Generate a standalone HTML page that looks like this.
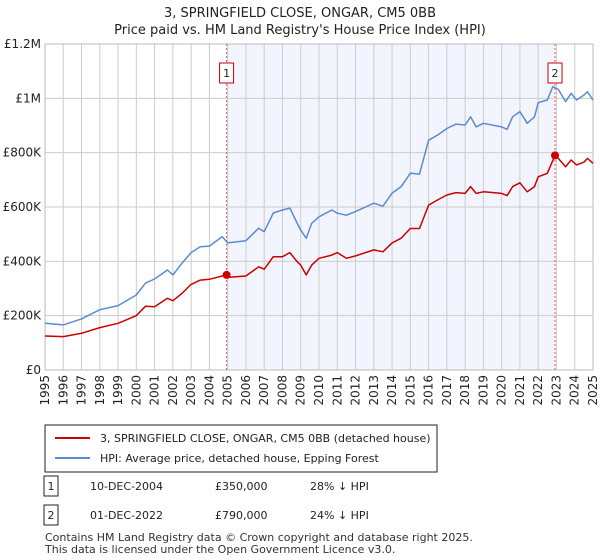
<!DOCTYPE html>
<html><head><meta charset="utf-8"><style>
body{margin:0;background:#fff;font-family:"Liberation Sans","DejaVu Sans",sans-serif;}
#wrap{position:relative;width:600px;height:560px;overflow:hidden;}
svg text{font-family:"DejaVu Sans","Liberation Sans",sans-serif;}
</style></head><body><div id="wrap">
<svg id="c" width="600" height="560"></svg>
</div>
<script>
const hpiYears=[1995,1996,1997,1998,1999,2000,2000.5,2001,2001.7,2002,2002.5,2003,2003.5,2004,2004.7,2005,2006,2006.7,2007,2007.5,2008,2008.4,2008.8,2009,2009.3,2009.6,2010,2010.7,2011,2011.5,2012,2013,2013.5,2014,2014.5,2015,2015.5,2016,2016.5,2017,2017.5,2018,2018.3,2018.6,2019,2020,2020.3,2020.6,2021,2021.4,2021.8,2022,2022.5,2022.8,2023.1,2023.5,2023.8,2024.1,2024.5,2024.7,2025];
const hpiValues=[172,166,188,222,237,276,320,335,368,350,393,432,454,456,491,468,476,522,509,578,589,596,541,515,485,540,564,589,577,570,583,614,603,651,675,724,721,846,865,889,905,902,932,895,908,895,886,932,951,908,932,984,994,1043,1033,988,1018,994,1012,1024,994];
const redYears=[1995,1996,1997,1998,1999,2000,2000.5,2001,2001.7,2002,2002.5,2003,2003.5,2004,2004.94,2005,2006,2006.7,2007,2007.5,2008,2008.4,2008.8,2009,2009.3,2009.6,2010,2010.7,2011,2011.5,2012,2013,2013.5,2014,2014.5,2015,2015.5,2016,2016.5,2017,2017.5,2018,2018.3,2018.6,2019,2020,2020.3,2020.6,2021,2021.4,2021.8,2022,2022.5,2022.92,2023.1,2023.5,2023.8,2024.1,2024.5,2024.7,2025];
const redValues=[125,123,135,156,172,200,235,233,264,255,282,315,331,334,350,341,346,380,371,417,417,432,399,386,350,386,411,423,432,411,420,442,435,468,485,521,521,607,626,644,653,650,675,650,656,650,642,675,689,656,675,711,724,790,779,748,773,755,765,779,761];
const saleYears=[2004.94,2022.92];
const saleValues=[350,790];
const saleLabels=["1","2"];
const yTicks=[0,200,400,600,800,1000,1200];
const yTickLabels=["£0","£200K","£400K","£600K","£800K","£1M","£1.2M"];
const xTicks=[1995,1996,1997,1998,1999,2000,2001,2002,2003,2004,2005,2006,2007,2008,2009,2010,2011,2012,2013,2014,2015,2016,2017,2018,2019,2020,2021,2022,2023,2024,2025];

const NS="http://www.w3.org/2000/svg";
const svg=document.getElementById('c');
const L=45,R=593,T=44,B=370;
const X=y=>L+(y-1995)*(R-L)/30;
const Y=v=>B-v*(B-T)/1200;
function mk(tag,at,parent){const e=document.createElementNS(NS,tag);for(const k in at)e.setAttribute(k,at[k]);(parent||svg).appendChild(e);return e;}
function txt(s,at){const e=mk('text',at);e.textContent=s;return e;}

let t=txt("3, SPRINGFIELD CLOSE, ONGAR, CM5 0BB",{x:300,y:17,'text-anchor':'middle','font-size':13,fill:'#222'});


t=txt("Price paid vs. HM Land Registry's House Price Index (HPI)",{x:300,y:34,'text-anchor':'middle','font-size':13,fill:'#222'});



let sh=mk('rect',{x:X(saleYears[0]),y:T,width:X(saleYears[1])-X(saleYears[0]),height:B-T,fill:'#eef2fc',opacity:0.75});



xTicks.forEach(yr=>{
 const g=mk('line',{x1:X(yr),x2:X(yr),y1:T,y2:B,stroke:'#cccccc','stroke-width':1});
 
 
 const lx=X(yr),ly=375;
 const l=txt(String(yr),{x:lx,y:ly,'font-size':12,fill:'#222','text-anchor':'end','dominant-baseline':'central',transform:`rotate(-90 ${lx} ${ly})`});
 
 
});
yTicks.forEach((v,i)=>{
 const g=mk('line',{x1:L,x2:R,y1:Y(v),y2:Y(v),stroke:'#cccccc','stroke-width':1});
 
 
 const l=txt(yTickLabels[i],{x:41,y:Y(v)+4,'text-anchor':'end','font-size':12,fill:'#222'});
 
 
});
let bx=mk('rect',{x:L,y:T,width:R-L,height:B-T,fill:'none',stroke:'#bbbbbb'});



saleYears.forEach((yr,i)=>{
 const v=mk('line',{x1:X(yr),x2:X(yr),y1:T,y2:B,stroke:'#ee5555','stroke-width':1,'stroke-dasharray':'2,2'});
 
 
 const r=mk('rect',{x:X(yr)-7,y:63,width:14,height:20,fill:'#fff',stroke:'#cc0000'});
 
 
 const tt=txt(saleLabels[i],{x:X(yr),y:77,'text-anchor':'middle','font-size':11,fill:'#222'});
 
 
});

const pts=(xs,vs)=>xs.map((x,i)=>X(x).toFixed(1)+','+Y(vs[i]).toFixed(1)).join(' ');
let hp=mk('polyline',{points:pts(hpiYears,hpiValues),fill:'none',stroke:'#5b8bd0','stroke-width':1.5,'stroke-linejoin':'round'});


let rp=mk('polyline',{points:pts(redYears,redValues),fill:'none',stroke:'#cc0000','stroke-width':1.5,'stroke-linejoin':'round'});


saleYears.forEach((yr,i)=>{
 const c=mk('circle',{cx:X(yr),cy:Y(saleValues[i]),r:4,fill:'#cc0000'});
 
 
});

// legend
let lg=mk('rect',{x:45,y:425,width:392,height:47,fill:'#fff',stroke:'#222'});


let l1=mk('line',{x1:55,x2:90,y1:438,y2:438,stroke:'#cc0000','stroke-width':2});


t=txt("3, SPRINGFIELD CLOSE, ONGAR, CM5 0BB (detached house)",{x:100,y:442,'font-size':11,fill:'#222'});


let l2=mk('line',{x1:55,x2:90,y1:458,y2:458,stroke:'#5b8bd0','stroke-width':2});


t=txt("HPI: Average price, detached house, Epping Forest",{x:100,y:462,'font-size':11,fill:'#222'});



// table
const rows=[["1","10-DEC-2004","£350,000","28% ↓ HPI"],["2","01-DEC-2022","£790,000","24% ↓ HPI"]];
rows.forEach((r,i)=>{
 const y=486+i*29;
 const b=mk('rect',{x:44,y:y-10,width:14,height:20,fill:'#fff',stroke:'#222'});
 
 
 let a=txt(r[0],{x:51,y:y+4,'text-anchor':'middle','font-size':11,fill:'#222'});
 
 
 a=txt(r[1],{x:90,y:y+4,'font-size':11,fill:'#222'});
 
 
 a=txt(r[2],{x:215,y:y+4,'font-size':11,fill:'#222'});
 
 
 a=txt(r[3],{x:310,y:y+4,'font-size':11,fill:'#222'});
 
 
});
t=txt("Contains HM Land Registry data © Crown copyright and database right 2025.",{x:45,y:541,'font-size':11,fill:'#333'});


t=txt("This data is licensed under the Open Government Licence v3.0.",{x:45,y:553,'font-size':11,fill:'#333'});


</script></body></html>
